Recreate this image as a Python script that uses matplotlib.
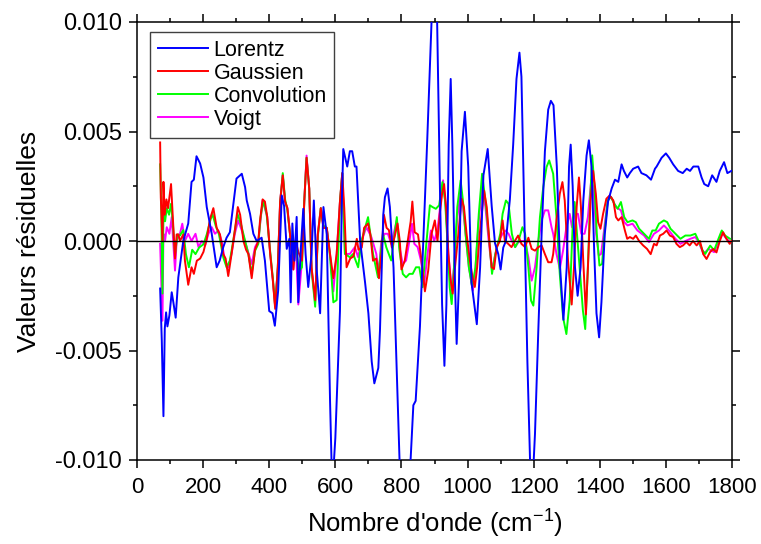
import matplotlib
matplotlib.use("Agg")
import matplotlib.pyplot as plt
from matplotlib.ticker import MultipleLocator, FormatStrFormatter
import numpy as np

plt.rcParams['font.family'] = ['Liberation Sans', 'DejaVu Sans']
plt.rcParams['mathtext.default'] = 'regular'

# residuals, values in units of 1e-3
lor_x = [70, 75, 80, 84, 88, 92, 98, 105, 110, 117, 125, 140, 155, 165, 172, 180, 191, 201, 211,
         226, 241, 250, 261, 271, 281, 301, 317, 327, 332, 342, 352, 362, 377, 387, 400, 410, 417,
         427, 438, 445, 453, 461, 465, 470, 476, 483, 488, 495, 503, 510, 518, 528, 535, 543, 554,
         564, 574, 584, 590, 596, 600, 606, 614, 620, 624, 636, 644, 651, 659, 664, 675, 690, 700,
         710, 718, 730, 735, 745, 750, 758, 765, 776, 784, 794, 800, 812, 820, 828, 836, 843, 856,
         866, 878, 891, 900, 908, 917, 923, 930, 936, 943, 949, 954, 962, 967, 974, 982, 992, 1002,
         1012, 1028, 1038, 1048, 1061, 1073, 1083, 1093, 1100, 1108, 1116, 1128, 1138, 1148, 1157,
         1163, 1173, 1181, 1189, 1197, 1204, 1214, 1224, 1234, 1244, 1252, 1260, 1270, 1280, 1290,
         1300, 1307, 1312, 1318, 1325, 1333, 1342, 1350, 1360, 1367, 1375, 1383, 1390, 1398, 1405,
         1415, 1425, 1436, 1446, 1456, 1466, 1473, 1483, 1491, 1501, 1516, 1526, 1541, 1555, 1567,
         1572, 1587, 1600, 1610, 1622, 1637, 1651, 1663, 1673, 1683, 1698, 1708, 1716, 1728, 1740,
         1753, 1763, 1776, 1786, 1798]
lor_y = [-2.17, -4.55, -8.0, -4.0, -3.26, -3.9, -3.4, -2.34, -2.8, -3.5, -1.66, 0.0, 0.8, 2.7, 2.8,
         3.87, 3.54, 2.9, 1.55, 0.34, -1.2, -0.9, -0.28, 0.15, 0.4, 2.85, 3.07, 2.46, 1.85, 1.24,
         0.33, 0.0, 0.15, -0.9, -3.2, -3.3, -3.87, -2.27, 2.08, 1.6, -0.36, 0.1, -2.8, 0.8, -0.9,
         1.1, -2.8, -0.5, 1.47, -0.6, -2.1, -0.6, 1.85, -1.2, -3.3, 1.55, 0.3, -7.3, -11.0, -10.0,
         -9.0, -6.5, -3.2, 2.0, 4.2, 3.4, 4.1, 4.1, 3.4, 3.4, 0.0, -1.9, -3.3, -5.5, -6.5, -5.8,
         -4.1, 1.2, 2.0, 2.4, 1.55, -1.2, -5.0, -9.9, -12.0, -13.0, -11.5, -9.9, -7.5, -7.3, -3.9,
         0.0, 4.6, 10.0, 10.8, 10.0, 1.9, -2.9, -5.7, -2.9, 4.4, 7.4, 4.4, -1.9, -4.7, -1.9, 4.1,
         5.9, 3.4, -1.9, -3.8, -1.2, 3.0, 4.2, 1.6, -0.1, -0.6, -1.3, -0.3, 0.0, 1.9, 4.4, 7.4, 8.6,
         7.5, 0.3, -5.5, -10.0, -11.0, -8.8, -4.1, 0.3, 4.1, 6.0, 6.4, 6.2, 3.4, -1.2, -3.6, -1.2,
         3.4, 4.4, 2.5, -1.2, -2.5, -1.2, 1.8, 3.9, 4.6, 3.4, -0.4, -3.3, -4.4, -2.8, 0.3, 1.8, 2.4,
         2.8, 2.7, 3.5, 3.2, 2.9, 3.1, 3.3, 3.4, 3.1, 3.0, 2.8, 3.3, 3.4, 3.8, 4.0, 3.8, 3.5, 3.2,
         3.1, 3.3, 3.2, 3.4, 3.4, 2.9, 2.6, 2.5, 3.0, 2.7, 3.2, 3.6, 3.1, 3.2]

gau_x = [70, 72, 77, 80, 84, 89, 94, 99, 103, 108, 115, 120, 125, 130, 140, 145, 155, 165, 172, 181,
         191, 201, 211, 221, 231, 241, 251, 261, 268, 276, 286, 297, 305, 312, 322, 330, 337, 347,
         357, 367, 372, 380, 387, 394, 403, 411, 418, 426, 433, 441, 448, 455, 463, 473, 480, 488,
         499, 506, 513, 521, 528, 539, 547, 556, 564, 574, 584, 594, 604, 614, 621, 627, 634, 645,
         655, 665, 670, 680, 687, 699, 706, 714, 724, 732, 740, 747, 755, 762, 771, 781, 788, 795,
         800, 810, 820, 828, 833, 840, 850, 860, 871, 881, 891, 901, 909, 916, 923, 929, 935, 942,
         949, 955, 962, 972, 982, 989, 997, 1007, 1015, 1022, 1029, 1037, 1045, 1050, 1058, 1066,
         1073, 1080, 1088, 1098, 1106, 1113, 1123, 1133, 1143, 1153, 1163, 1174, 1184, 1194, 1204,
         1214, 1224, 1234, 1244, 1254, 1259, 1269, 1279, 1287, 1294, 1304, 1315, 1322, 1330, 1337,
         1343, 1350, 1358, 1365, 1372, 1380, 1388, 1395, 1402, 1410, 1420, 1430, 1441, 1449, 1456,
         1466, 1476, 1483, 1491, 1501, 1509, 1519, 1531, 1543, 1554, 1564, 1572, 1582, 1592, 1602,
         1612, 1622, 1632, 1642, 1652, 1662, 1672, 1682, 1693, 1703, 1713, 1723, 1733, 1743, 1753,
         1763, 1773, 1783, 1793, 1798]
gau_y = [4.5, 2.0, 0.0, 2.7, 1.2, 1.9, 1.5, 2.1, 2.6, 1.2, -0.8, 0.3, 0.3, 0.0, 0.3, -0.9, -2.0,
         -1.2, -1.5, -0.9, -0.8, -0.5, 0.1, 1.0, 1.5, 0.6, 0.3, -0.6, -0.8, -1.6, -0.6, 0.6, 1.55,
         1.2, 0.0, -0.4, -0.6, -1.7, -0.4, 0.0, 0.9, 1.9, 1.8, 1.1, -0.6, -1.8, -3.1, -1.2, 1.8,
         3.0, 1.8, 1.5, 0.3, -1.3, 0.0, -0.5, -0.9, 1.8, 3.8, 2.4, -1.2, -2.7, 0.3, 1.5, 0.6, 0.6,
         -0.6, -1.7, -0.6, 1.8, 3.1, 1.5, -1.2, -0.8, -0.7, 0.1, -0.4, -0.3, 0.6, 0.8, 0.3, -0.9,
         -0.8, -1.7, -0.5, 1.2, 0.6, 0.5, -0.3, 0.3, 0.8, 0.0, -1.3, -0.9, 0.1, 0.9, 1.8, 0.4, 0.3,
         -0.8, -2.3, -1.35, 0.33, 0.94, 0.0, 1.24, 2.16, 2.6, 1.55, -0.6, -1.8, -2.4, -1.2, 0.3,
         1.93, 1.55, 0.33, -0.9, -1.65, -2.1, -1.2, 0.33, 1.55, 2.3, 1.55, 0.0, -1.2, -1.28, -0.28,
         0.0, 0.94, 0.0, -0.13, -0.28, 0.0, 0.25, -0.13, -0.28, 0.15, -0.36, -0.44, -0.28, -0.2,
         -0.6, -0.97, -0.97, -0.6, 0.94, 2.16, 2.69, 1.85, -0.9, -2.9, -1.2, 1.55, 2.9, 1.55, -0.9,
         -3.35, -0.9, 1.85, 3.2, 2.16, 0.86, 0.56, 1.24, 1.93, 2.08, 1.85, 1.09, 0.94, 1.09, 0.48,
         0.1, 0.18, 0.1, 0.25, 0.0, -0.2, -0.36, -0.6, -0.13, -0.2, 0.25, 0.33, 0.48, 0.25, 0.18,
         -0.13, -0.28, -0.2, -0.05, -0.2, 0.0, -0.2, 0.0, -0.6, -0.82, -0.52, -0.36, -0.52, 0.0,
         0.4, 0.1, -0.13, 0.0]

con_x = [70, 73, 77, 80, 85, 90, 97, 103, 108, 115, 123, 130, 140, 148, 157, 167, 177, 188, 201,
         211, 221, 228, 238, 248, 261, 271, 281, 291, 304, 314, 327, 337, 347, 357, 367, 374, 382,
         392, 403, 411, 418, 426, 433, 441, 448, 455, 463, 473, 480, 490, 499, 506, 513, 521, 528,
         539, 547, 556, 564, 574, 584, 594, 604, 614, 621, 629, 644, 654, 669, 679, 699, 714, 729,
         744, 754, 769, 786, 794, 804, 814, 824, 834, 844, 854, 864, 876, 886, 894, 904, 914, 924,
         932, 939, 946, 952, 959, 969, 979, 986, 994, 1004, 1014, 1024, 1034, 1044, 1054, 1064,
         1074, 1084, 1099, 1106, 1116, 1124, 1134, 1144, 1154, 1166, 1174, 1184, 1192, 1199, 1209,
         1219, 1229, 1239, 1247, 1259, 1269, 1279, 1289, 1299, 1309, 1319, 1324, 1331, 1339, 1349,
         1356, 1364, 1371, 1377, 1384, 1391, 1399, 1407, 1414, 1424, 1434, 1444, 1454, 1464, 1474,
         1484, 1499, 1509, 1519, 1534, 1549, 1559, 1569, 1579, 1594, 1604, 1614, 1629, 1644, 1659,
         1674, 1689, 1699, 1711, 1719, 1734, 1746, 1759, 1769, 1779, 1794]
con_y = [3.5, 1.8, -2.4, 1.2, 0.9, 1.5, 1.2, 1.7, 0.9, -0.6, 0.3, 0.25, 0.5, -0.6, -1.2, -0.4,
         -0.6, -0.3, -0.15, 0.3, 0.9, 1.24, 0.7, 0.3, -0.75, -1.2, -0.9, 0.0, 1.24, 0.8, 0.0, -0.6,
         -1.5, -0.45, -0.13, 1.1, 1.85, 1.24, -0.5, -1.7, -3.0, -1.2, 1.7, 3.1, 1.9, 1.4, 0.3, -1.0,
         -0.1, -1.4, -1.2, 1.8, 3.8, 2.4, -1.3, -3.0, 0.2, 1.5, 0.7, 0.6, -0.7, -2.8, -2.7, 1.8,
         3.1, -0.59, -0.74, -0.59, -1.2, 0.0, 1.09, -0.59, -1.66, 0.33, -0.28, -0.89, 1.09, -0.43,
         -1.5, -1.66, -1.5, -1.5, -1.2, -1.2, -2.11, 0.0, 1.63, 1.55, 1.47, 1.63, 2.69, 1.85, 0.0,
         -2.11, -2.88, -1.2, 1.55, 2.77, 1.85, 0.33, -1.2, -2.11, -1.2, 1.24, 3.07, 1.85, 0.33,
         -1.5, -0.59, 0.33, 1.24, 1.85, 1.7, 0.33, -0.28, 0.0, 0.63, 0.33, -1.2, -2.72, -2.95, -1.2,
         1.09, 2.46, 3.38, 3.68, 3.07, 1.09, -1.5, -3.49, -4.25, -2.72, 1.09, 1.78, 0.33, -1.2,
         -3.18, -4.02, -1.2, 1.85, 3.91, 2.46, 0.33, -1.12, -1.05, 0.33, 1.85, 2.01, 1.7, 1.47, 1.78,
         1.09, 0.86, 0.94, 0.86, 0.56, 0.33, 0.1, 0.48, 0.48, 0.79, 0.94, 0.86, 0.56, 0.33, 0.1,
         0.25, 0.25, 0.33, 0.0, -0.43, -0.59, -0.21, -0.43, 0.1, 0.48, 0.25, 0.1]

voi_x = [70, 77, 80, 85, 90, 98, 105, 115, 120, 130, 137, 145, 155, 165, 177, 186, 196, 206, 216,
         226, 236, 246, 256, 266, 276, 286, 296, 306, 317, 332, 347, 357, 367, 380, 394, 403, 411,
         418, 426, 433, 441, 448, 455, 463, 473, 480, 488, 499, 506, 513, 521, 528, 539, 547, 556,
         564, 574, 584, 594, 604, 614, 621, 629, 644, 659, 669, 679, 694, 709, 724, 731, 739, 749,
         759, 769, 786, 794, 804, 814, 824, 832, 839, 849, 859, 869, 879, 889, 899, 909, 919, 926,
         934, 942, 952, 959, 969, 979, 986, 994, 1004, 1016, 1024, 1034, 1044, 1054, 1064, 1074,
         1084, 1094, 1106, 1114, 1124, 1134, 1144, 1154, 1164, 1174, 1184, 1194, 1204, 1214, 1224,
         1234, 1244, 1254, 1259, 1269, 1279, 1289, 1299, 1309, 1316, 1324, 1334, 1344, 1354, 1364,
         1374, 1381, 1389, 1397, 1404, 1414, 1424, 1434, 1449, 1464, 1474, 1484, 1499, 1514, 1534,
         1549, 1564, 1579, 1594, 1609, 1629, 1644, 1659, 1674, 1689, 1699, 1714, 1729, 1746, 1759,
         1769, 1779, 1794]
voi_y = [-0.13, -3.64, 0.33, 0.02, 0.63, 0.33, 1.09, -1.35, 0.02, 0.33, 0.79, 0.0, 0.33, 0.0,
         0.33, -0.28, 0.0, -0.21, 0.33, 0.63, 0.33, 0.48, 0.0, -0.89, -1.2, -0.59, 0.33, 0.94, 0.48,
         -0.28, -1.05, -0.28, 0.0, 1.85, 1.1, -0.6, -1.8, -3.0, -1.2, 1.8, 3.0, 1.8, 1.5, 0.3, -1.3,
         0.0, -2.9, -0.9, 1.8, 3.9, 2.4, -1.2, -2.8, 0.3, 1.5, 0.6, 0.6, -0.6, -2.3, -0.6, 1.8, 3.1,
         -0.59, -0.59, -0.28, -0.74, 0.0, 0.63, 0.18, -0.59, -1.5, 0.0, 0.33, 0.33, -0.13, 0.94,
         -0.28, -1.05, -0.89, 0.0, 0.79, -0.13, -0.28, -0.89, -1.96, -0.59, 0.48, 0.0, 0.48, 1.85,
         2.77, 1.55, -0.59, -2.27, -1.2, 1.09, 2.16, 1.55, 0.33, -1.2, -2.27, -1.2, 0.94, 2.46, 1.55,
         0.0, -1.35, -0.59, 0.0, 0.33, 0.48, 0.33, 0.0, -0.28, -0.05, 0.0, 0.0, -0.74, -1.81, -1.2,
         0.0, 0.94, 1.4, 1.4, 0.63, 0.33, -0.59, -1.27, -0.43, 0.63, 1.24, 0.63, 1.24, 1.24, 0.33,
         0.33, 1.09, 2.77, 2.46, 0.33, -0.66, -0.59, 0.63, 1.85, 2.01, 1.55, 1.4, 0.86, 0.71, 0.79,
         0.48, 0.25, -0.05, 0.33, 0.48, 0.71, 0.48, 0.1, -0.13, 0.0, 0.1, 0.18, -0.05, -0.59, -0.36,
         -0.51, 0.0, 0.4, 0.18, -0.05]

series = [("Lorentz", lor_x, lor_y, "#0000ff", 5),
          ("Gaussien", gau_x, gau_y, "#ff0000", 4),
          ("Convolution", con_x, con_y, "#00ff00", 3),
          ("Voigt", voi_x, voi_y, "#ff00ff", 2)]

fig = plt.figure(figsize=(7.61, 5.44), dpi=100)
ax = fig.add_axes([137 / 761, 84 / 544, 595 / 761, 438 / 544])

for name, xs, ys, col, z in series:
    ax.plot(xs, np.array(ys) * 1e-3, color=col, lw=1.4, label=name, zorder=z)

ax.axhline(0, color="black", lw=1.0, zorder=6)

ax.set_xlim(0, 1800)
ax.set_ylim(-0.010, 0.010)
ax.xaxis.set_major_locator(MultipleLocator(200))
ax.xaxis.set_minor_locator(MultipleLocator(100))
ax.yaxis.set_major_locator(MultipleLocator(0.005))
ax.yaxis.set_minor_locator(MultipleLocator(0.0025))
ax.yaxis.set_major_formatter(FormatStrFormatter("%.3f"))

ax.tick_params(which="both", direction="out", top=True, right=True, width=1.1)
ax.tick_params(which="major", length=6)
ax.tick_params(which="minor", length=3)
ax.tick_params(axis="y", labelsize=17, pad=5)
ax.tick_params(axis="x", labelsize=16, pad=6)
for sp in ax.spines.values():
    sp.set_linewidth(1.1)

ax.set_xlabel("Nombre d'onde (cm$^{-1}$)", fontsize=18.5, labelpad=7)
ax.set_ylabel("Valeurs résiduelles", fontsize=19, labelpad=10)

leg = ax.legend(loc="upper left", bbox_to_anchor=(13 / 595, 1 - 10 / 438), borderaxespad=0,
                fontsize=15.5, handlelength=2.35, handletextpad=0.25, labelspacing=0.1,
                borderpad=0.35, fancybox=False, framealpha=1, edgecolor="#404040")
leg.get_frame().set_linewidth(1.0)
for line in leg.get_lines():
    line.set_linewidth(1.4)

fig.savefig("out.png", dpi=100)
